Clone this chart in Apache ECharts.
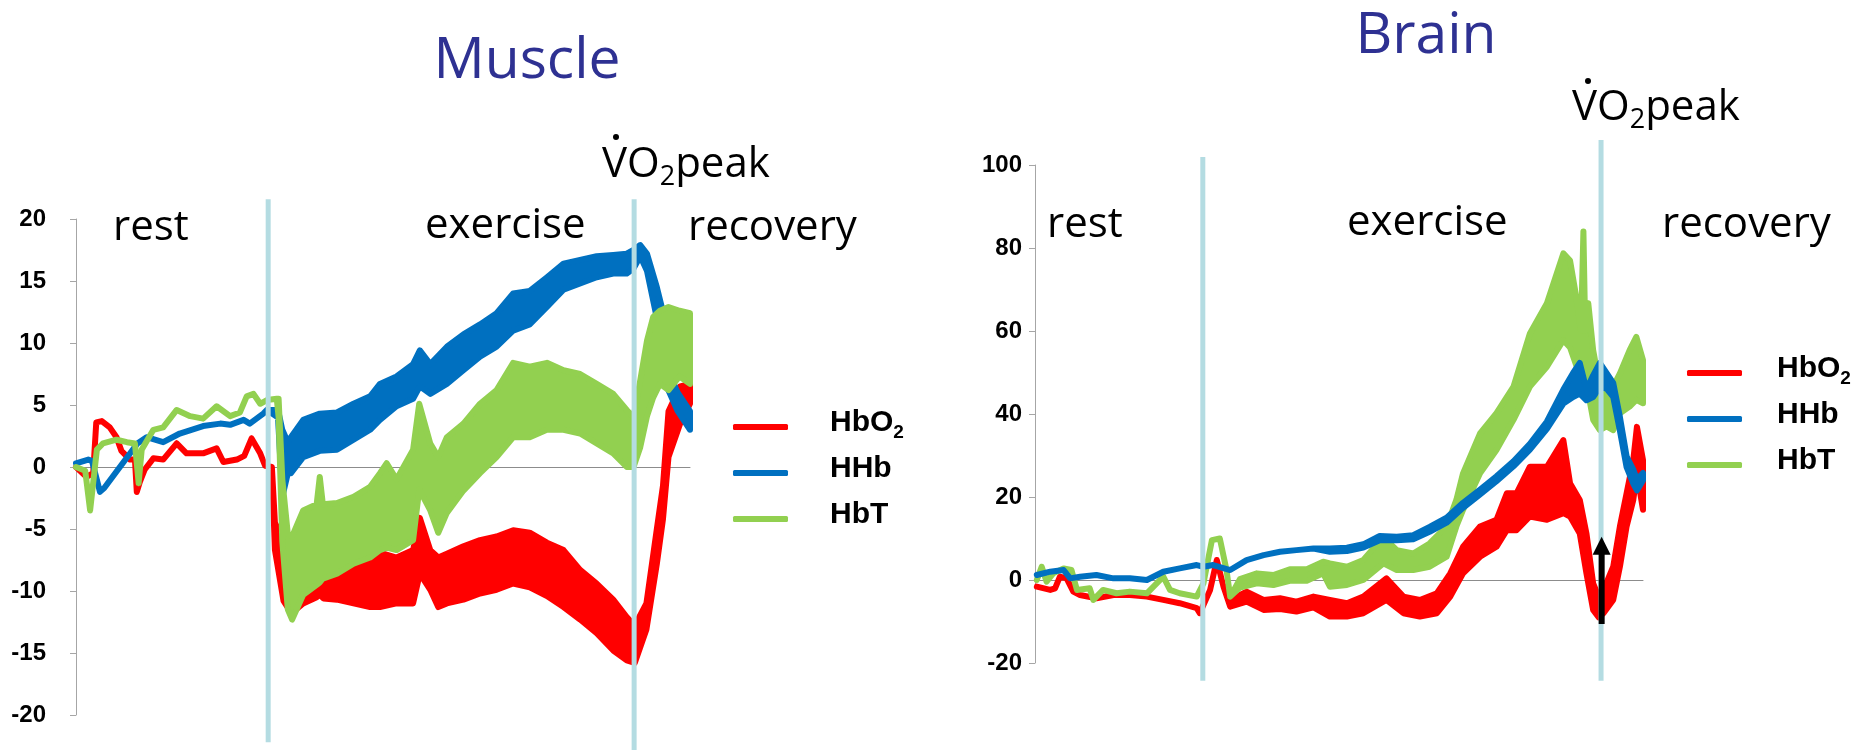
<!DOCTYPE html>
<html>
<head>
<meta charset="utf-8">
<script src="https://cdn.jsdelivr.net/npm/echarts@6/dist/echarts.min.js"></script>
<style>
  html, body { margin: 0; padding: 0; background: #fff; }
  #chart { width: 1863px; height: 750px; }
</style>
</head>
<body>
<div id="chart"></div>
<script>
// ---------- Muscle (time in % of protocol, values in µM) ----------
const muscleHbO2T  = [0, 1.7, 2.8, 3.3, 4.2, 5.5, 6.6, 7.4, 8.8, 9.6, 9.9, 10.4, 11.2, 12.6, 14.2, 16.4, 18.0, 20.7, 22.9, 24.0, 26.2, 27.4, 28.6, 30.0, 30.8, 31.9, 32.4, 33.8, 35.1, 37.0, 39.2, 39.7, 40.3, 42.5, 45.2, 47.9, 49.5, 52.2, 54.9, 56.0, 57.7, 59.0, 60.4, 63.1, 65.8, 68.5, 71.2, 73.9, 76.7, 79.4, 82.1, 84.8, 87.5, 89.7, 91.0, 92.9, 94.6, 95.6, 96.5, 98.4, 100];
const muscleHbO2Lo = [0, -0.8, -0.5, 3.6, 3.7, 3.2, 2.4, 1.3, 0.6, 0.6, -2.0, -1.2, -0.2, 0.7, 0.6, 1.9, 1.1, 1.1, 1.5, 0.4, 0.6, 0.9, 2.3, 1.1, 0.1, 0, -6.7, -10.8, -11.8, -11.0, -10.5, -10.3, -10.6, -10.7, -11.0, -11.3, -11.3, -11.0, -11.0, -8.6, -9.9, -11.3, -11.0, -10.7, -10.2, -9.9, -9.4, -9.7, -10.4, -11.3, -12.3, -13.4, -14.8, -15.6, -15.8, -13.1, -7.8, -4.2, 0.8, 3.5, 5.1];
const muscleHbO2Hi = [0, -0.8, -0.5, 3.6, 3.7, 3.2, 2.4, 1.3, 0.6, 0.6, -2.0, -1.2, -0.2, 0.7, 0.6, 1.9, 1.1, 1.1, 1.5, 0.4, 0.6, 0.9, 2.3, 1.1, 0.1, 0, -4.5, -5.9, -8.5, -8.0, -8.0, -7.0, -8.0, -7.8, -7.8, -7.6, -6.9, -7.3, -6.7, -4.1, -6.7, -7.3, -7.0, -6.4, -5.9, -5.6, -5.1, -5.3, -6.1, -6.7, -8.3, -9.4, -10.7, -12.1, -12.8, -11.0, -5.0, -1.5, 4.5, 6.5, 6.7];

const muscleHHbT  = [0, 2.0, 2.6, 3.9, 4.6, 10.0, 11.5, 14.2, 16.9, 20.7, 23.5, 25.1, 27.3, 28.3, 30.5, 31.1, 32.9, 33.6, 34.5, 35.0, 37.0, 39.7, 42.5, 45.2, 47.9, 49.5, 52.2, 54.9, 56.0, 57.7, 60.4, 63.1, 65.8, 68.5, 71.2, 73.9, 76.7, 79.4, 82.1, 84.8, 87.5, 89.7, 90.8, 91.9, 93.0, 94.6, 95.6, 96.2, 98.0, 100];
const muscleHHbLo = [0.3, 0.6, 0.5, -2.0, -1.7, 1.9, 2.4, 2.0, 2.7, 3.3, 3.5, 3.4, 3.8, 3.5, 4.3, 4.6, 4.0, -2.4, -0.5, -0.5, 0.8, 1.3, 1.4, 2.2, 3.0, 3.8, 4.9, 5.5, 6.5, 5.9, 6.7, 7.8, 8.9, 9.7, 11.0, 11.5, 12.9, 14.3, 14.8, 15.3, 15.6, 15.6, 16.0, 17.0, 15.8, 12.0, 11.0, 6.5, 4.5, 3.0];
const muscleHHbHi = [0.3, 0.6, 0.5, -2.0, -1.7, 1.9, 2.4, 2.0, 2.7, 3.3, 3.5, 3.4, 3.8, 3.5, 4.3, 4.6, 4.6, 3.0, 2.0, 2.4, 3.8, 4.3, 4.4, 5.1, 5.7, 6.7, 7.3, 8.3, 9.4, 8.3, 9.7, 10.7, 11.5, 12.4, 14.0, 14.2, 15.3, 16.4, 16.7, 17.0, 17.1, 17.2, 17.5, 17.9, 17.2, 14.5, 12.5, 8.0, 6.0, 4.5];

const muscleHbTT  = [0, 1.5, 2.3, 3.4, 4.4, 6.6, 8.3, 9.6, 10.2, 10.7, 12.6, 14.2, 16.4, 18.6, 20.7, 22.9, 25.1, 26.7, 27.8, 28.9, 30.0, 31.1, 32.7, 33.0, 33.6, 34.5, 35.2, 37.0, 39.2, 39.7, 40.2, 42.5, 45.2, 47.9, 49.5, 50.6, 52.2, 54.9, 55.9, 57.7, 59.0, 60.4, 63.1, 65.8, 68.5, 71.2, 73.9, 76.7, 79.4, 82.1, 84.8, 87.5, 89.7, 90.8, 91.9, 93.0, 94.0, 95.1, 96.5, 98.3, 100];
const muscleHbTLo = [0, -0.3, -3.5, 1.4, 1.9, 2.2, 2.0, 1.9, -1.3, 1.4, 3.0, 3.2, 4.6, 4.1, 3.9, 4.9, 4.1, 4.4, 5.7, 5.9, 5.1, 5.4, 5.5, 4.0, -6.0, -11.5, -12.3, -10.3, -9.5, -9.3, -9.0, -8.6, -7.8, -7.3, -6.7, -6.5, -6.7, -5.9, -1.8, -3.5, -5.3, -3.7, -1.9, -0.5, 0.8, 2.4, 2.4, 3.0, 3.0, 2.7, 1.9, 1.1, 0.0, 0.0, 1.6, 4.1, 5.6, 6.7, 6.2, 7.3, 6.7];
const muscleHbTHi = [0, -0.3, -3.5, 1.4, 1.9, 2.2, 2.0, 1.9, -1.3, 1.4, 3.0, 3.2, 4.6, 4.1, 3.9, 4.9, 4.1, 4.4, 5.7, 5.9, 5.1, 5.4, 5.5, 5.5, -1.0, -5.4, -5.6, -3.5, -3.0, -0.8, -3.0, -2.9, -2.4, -1.6, -0.5, 0.3, -1.0, 1.4, 5.1, 1.9, 0.8, 2.4, 3.5, 5.1, 6.2, 8.4, 8.1, 8.4, 7.8, 7.5, 6.7, 5.9, 4.6, 4.0, 7.0, 10.2, 12.1, 12.6, 12.9, 12.6, 12.4];

// ---------- Brain ----------
const brainHbO2T  = [0.3, 2.5, 3.3, 4.1, 5.2, 6.3, 7.4, 10.1, 12.9, 15.6, 18.4, 21.1, 23.8, 26.6, 27.1, 28.8, 29.9, 31.0, 32.1, 34.8, 37.6, 40.3, 43.0, 45.8, 48.5, 51.3, 54.0, 57.8, 60.6, 63.3, 66.1, 68.3, 70.4, 73.2, 75.9, 77.6, 79.2, 81.4, 84.2, 86.9, 88.0, 89.6, 90.7, 91.8, 92.7, 93.5, 95.1, 96.2, 97.3, 98.4, 99.0, 100];
const brainHbO2Lo = [-1.6, -2.4, -2.0, 0.8, 0.4, -2.8, -3.6, -4.4, -3.6, -3.6, -4.0, -4.8, -5.6, -6.8, -8.0, -2.4, 4.8, -1.6, -6.4, -5.2, -7.2, -7.0, -7.6, -6.6, -8.8, -8.8, -8.0, -4.8, -8.0, -8.8, -8.0, -4.0, 1.6, 5.6, 8.0, 12.0, 12.0, 15.3, 14.5, 16.1, 15.3, 11.2, 1.6, -7.2, -9.0, -8.0, -4.8, 3.2, 12.9, 19.3, 25.7, 16.9];
const brainHbO2Hi = [-1.6, -2.4, -2.0, 0.8, 0.4, -2.8, -3.6, -4.4, -3.6, -3.6, -4.0, -4.8, -5.6, -6.8, -8.0, -2.4, 4.8, -1.6, -4.8, -2.8, -4.8, -4.4, -5.2, -4.0, -4.8, -5.6, -4.0, 0.4, -4.0, -4.8, -3.2, 1.6, 8.0, 12.9, 14.5, 20.9, 20.9, 27.3, 27.3, 33.7, 23.3, 19.3, 11.2, -0.8, -4.0, -2.4, 3.2, 12.9, 20.9, 28.9, 36.9, 28.9];

const brainHHbT  = [0.3, 2.5, 4.7, 5.8, 7.4, 10.1, 12.9, 15.6, 18.4, 21.1, 23.8, 26.6, 27.7, 29.3, 32.1, 34.8, 37.6, 40.3, 43.0, 45.8, 48.5, 51.3, 54.0, 56.7, 59.5, 62.2, 64.9, 67.7, 70.4, 73.2, 75.9, 78.7, 81.4, 84.2, 86.9, 88.5, 89.6, 90.7, 91.8, 92.9, 94.0, 95.1, 96.2, 97.3, 98.4, 99.0, 100];
const brainHHbLo = [1.2, 2.0, 2.4, 0.4, 0.8, 1.2, 0.4, 0.4, 0.0, 2.0, 2.8, 3.6, 3.2, 3.6, 2.4, 4.8, 6.0, 6.8, 7.2, 7.6, 6.8, 7.0, 7.8, 9.6, 9.6, 9.8, 11.6, 13.8, 17.4, 20.6, 23.8, 27.4, 31.4, 36.4, 42.5, 44.1, 44.9, 43.3, 44.1, 46.5, 46.1, 44.1, 36.0, 27.2, 23.2, 21.6, 24.0];
const brainHHbHi = [1.2, 2.0, 2.4, 0.4, 0.8, 1.2, 0.4, 0.4, 0.0, 2.0, 2.8, 3.6, 3.2, 3.6, 2.4, 4.8, 6.0, 6.8, 7.2, 7.6, 7.6, 7.8, 8.6, 10.6, 10.4, 10.8, 12.8, 15.0, 18.6, 21.8, 25.0, 28.6, 32.8, 38.2, 45.9, 49.9, 52.3, 45.9, 49.3, 52.3, 49.9, 47.5, 39.3, 29.8, 26.6, 24.2, 25.8];

const brainHbTT  = [0.3, 1.1, 1.9, 3.0, 4.7, 6.0, 6.9, 9.0, 9.6, 11.2, 13.4, 15.6, 18.4, 21.1, 22.2, 23.8, 26.6, 27.7, 29.1, 30.4, 31.5, 32.1, 33.7, 36.5, 39.2, 41.9, 44.7, 47.4, 48.5, 51.3, 54.0, 57.3, 59.5, 62.2, 64.9, 67.7, 69.3, 70.4, 73.2, 75.9, 78.7, 81.4, 84.2, 86.9, 88.0, 89.1, 89.8, 90.2, 90.5, 91.0, 91.8, 92.9, 94.0, 95.1, 96.2, 97.8, 98.9, 100];
const brainHbTLo = [0, 3.2, -0.4, 1.6, 2.8, 2.4, -2.4, -2.0, -4.8, -2.4, -3.2, -2.8, -3.2, 0.8, -2.4, -3.2, -4.0, -0.8, 9.6, 10.0, 2.4, -4.0, -1.8, -0.8, -1.2, -0.2, -0.2, 1.6, -1.6, -1.2, 0.0, 4.0, 2.4, 2.4, 3.2, 5.6, 12.9, 16.9, 25.7, 31.3, 38.6, 46.6, 51.4, 57.8, 56.0, 51.4, 50.0, 52.0, 48.0, 45.0, 38.6, 36.1, 37.0, 36.1, 40.2, 41.8, 43.4, 42.6];
const brainHbTHi = [0, 3.2, -0.4, 1.6, 2.8, 2.4, -2.4, -2.0, -4.8, -2.4, -3.2, -2.8, -3.2, 0.8, -2.4, -3.2, -4.0, -0.8, 9.6, 10.0, 2.4, -4.0, 0.2, 1.6, 1.2, 2.6, 2.6, 4.4, 4.0, 3.2, 4.8, 10.4, 7.2, 6.4, 8.8, 12.9, 19.3, 25.7, 35.3, 40.2, 46.6, 59.4, 66.7, 78.7, 77.0, 67.5, 60.0, 84.0, 60.0, 66.7, 55.4, 46.6, 47.0, 46.6, 49.8, 55.4, 58.6, 53.0];

// Phase boundaries (exercise onset, VO2peak) and their drawn extent
const musclePhaseT      = [31.3, 90.9];
const musclePhaseTop    = [21.6, 21.6];
const musclePhaseBottom = [-22.2, -23.6];
const brainPhaseT       = [27.6, 93.1];
const brainPhaseTop     = [101.9, 106.0];
const brainPhaseBottom  = [-24.3, -24.3];

// Arrow marking the HbO2 rebound after VO2peak (brain)
const brainArrow = [93.2, -10.6, 10.4];

const seriesNames = ['HbO2', 'HHb', 'HbT'];
const RED = '#ff0000', BLUE = '#0070c0', GREEN = '#92d050', PHASE = '#b4dce2';

// A noisy trace drawn as one filled band between its lower and upper envelope
function bandSeries(name, color, gi, t, lo, hi, w) {
  return {
    name, type: 'custom', xAxisIndex: gi, yAxisIndex: gi, silent: true, animation: false,
    itemStyle: { color },
    data: t.map((x, i) => [x, lo[i], hi[i]]),
    encode: { x: 0, y: [1, 2] },
    renderItem: (params, api) => {
      if (params.dataIndexInside !== 0) return null;
      const n = params.dataInsideLength;
      const upper = [], lower = [];
      for (let j = 0; j < n; j++) {
        const x = api.value(0, j);
        upper.push(api.coord([x, api.value(2, j)]));
        lower.push(api.coord([x, api.value(1, j)]));
      }
      return {
        type: 'polygon',
        shape: { points: upper.concat(lower.reverse()) },
        style: { fill: color, stroke: color, lineWidth: w, lineJoin: 'round' }
      };
    }
  };
}

function phaseSeries(gi, t, top, bottom) {
  return {
    type: 'custom', xAxisIndex: gi, yAxisIndex: gi, silent: true, animation: false, clip: false, z: 5,
    data: t.map((x, i) => [x, top[i], bottom[i]]),
    renderItem: (params, api) => {
      const a = api.coord([api.value(0), api.value(1)]);
      const b = api.coord([api.value(0), api.value(2)]);
      return { type: 'line', shape: { x1: a[0], y1: a[1], x2: b[0], y2: b[1] },
               style: { stroke: PHASE, lineWidth: 5 } };
    }
  };
}

const arrowSeries = {
  type: 'custom', xAxisIndex: 1, yAxisIndex: 1, silent: true, animation: false, clip: false, z: 6,
  data: [brainArrow],
  renderItem: (params, api) => {
    const base = api.coord([api.value(0), api.value(1)]);
    const tip = api.coord([api.value(0), api.value(2)]);
    const hw = 9, hh = 18;
    return { type: 'group', children: [
      { type: 'line', shape: { x1: base[0], y1: base[1], x2: tip[0], y2: tip[1] + hh - 2 },
        style: { stroke: '#000', lineWidth: 6 } },
      { type: 'polygon', shape: { points: [[tip[0], tip[1]], [tip[0] - hw, tip[1] + hh], [tip[0] + hw, tip[1] + hh]] },
        style: { fill: '#000' } }
    ] };
  }
};

const axisGray = '#a6a6a6';

function xAxisFor(gi) {
  return { gridIndex: gi, type: 'value', min: 0, max: 100,
    axisLine: { onZero: true, lineStyle: { color: '#8c8c8c', width: 1 } },
    axisTick: { show: false }, axisLabel: { show: false }, splitLine: { show: false } };
}
function yAxisFor(gi, min, max, interval, margin) {
  return { gridIndex: gi, type: 'value', min, max, interval,
    axisLine: { show: true, onZero: false, lineStyle: { color: axisGray, width: 1 } },
    axisTick: { show: true, length: 6, lineStyle: { color: axisGray } },
    axisLabel: { margin, fontFamily: 'Liberation Sans', fontWeight: 'bold', fontSize: 24, color: '#000' },
    splitLine: { show: false } };
}

function legendFor(left, top, gap) {
  return {
    data: seriesNames, orient: 'vertical', left, top,
    itemWidth: 55, itemHeight: 6, itemGap: 8, icon: 'roundRect', selectedMode: false,
    formatter: n => n === 'HbO2' ? '{a|HbO}{b|2}' : '{a|' + n + '}',
    textStyle: { rich: {
      a: { fontFamily: 'Liberation Sans', fontWeight: 'bold', fontSize: 30, lineHeight: 30, color: '#000', padding: [0, 0, 8, gap] },
      b: { fontFamily: 'Liberation Sans', fontWeight: 'bold', fontSize: 19, lineHeight: 19, color: '#000', verticalAlign: 'bottom' }
    } }
  };
}

const labelFont = "'Open Sans', sans-serif";
function phaseLabel(text, x, y) {
  return { type: 'text', x, y, silent: true,
    style: { text, fill: '#000', fontFamily: labelFont, fontSize: 42, align: 'left', verticalAlign: 'middle' } };
}
function titleText(text, x, y) {
  return { type: 'text', x, y, silent: true,
    style: { text, fill: '#2e3192', fontFamily: labelFont, fontSize: 57, align: 'center', verticalAlign: 'middle' } };
}
function peakLabel(x, y, dotX, dotY) {
  return [
    { type: 'text', x, y, silent: true,
      style: { text: '{a|VO}{b|2}{a|peak}', align: 'left', verticalAlign: 'middle',
        rich: {
          a: { fontFamily: labelFont, fontSize: 42, lineHeight: 42, fill: '#000', padding: [0, 0, 10, 0] },
          b: { fontFamily: labelFont, fontSize: 27, lineHeight: 27, fill: '#000', verticalAlign: 'bottom' }
        } } },
    { type: 'circle', silent: true, shape: { cx: dotX, cy: dotY, r: 3 }, style: { fill: '#000' } }
  ];
}

const option = {
  backgroundColor: '#fff',
  animation: false,
  grid: [
    { left: 76, top: 219, width: 614, height: 496 },
    { left: 1035, top: 165, width: 608, height: 498 }
  ],
  xAxis: [xAxisFor(0), xAxisFor(1)],
  yAxis: [yAxisFor(0, -20, 20, 5, 30), yAxisFor(1, -20, 100, 20, 13)],
  legend: [legendFor(728, 403, 37), legendFor(1682, 349, 30)],
  series: [
    bandSeries('HbO2', RED, 0, muscleHbO2T, muscleHbO2Lo, muscleHbO2Hi, 6),
    bandSeries('HHb', BLUE, 0, muscleHHbT, muscleHHbLo, muscleHHbHi, 6),
    bandSeries('HbT', GREEN, 0, muscleHbTT, muscleHbTLo, muscleHbTHi, 6),
    bandSeries('HbO2', RED, 1, brainHbO2T, brainHbO2Lo, brainHbO2Hi, 6),
    bandSeries('HbT', GREEN, 1, brainHbTT, brainHbTLo, brainHbTHi, 6),
    bandSeries('HHb', BLUE, 1, brainHHbT, brainHHbLo, brainHHbHi, 6),
    phaseSeries(0, musclePhaseT, musclePhaseTop, musclePhaseBottom),
    phaseSeries(1, brainPhaseT, brainPhaseTop, brainPhaseBottom),
    arrowSeries
  ],
  graphic: [].concat(
    [titleText('Muscle', 527, 62), titleText('Brain', 1426, 37)],
    [phaseLabel('rest', 113, 228), phaseLabel('exercise', 425, 226), phaseLabel('recovery', 688, 228)],
    [phaseLabel('rest', 1047, 225), phaseLabel('exercise', 1347, 223), phaseLabel('recovery', 1662, 225)],
    peakLabel(602, 170, 616, 137),
    peakLabel(1572, 113, 1588, 81)
  )
};

const chart = echarts.init(document.getElementById('chart'), null, { renderer: 'canvas' });
chart.setOption(option);
</script>
</body>
</html>
